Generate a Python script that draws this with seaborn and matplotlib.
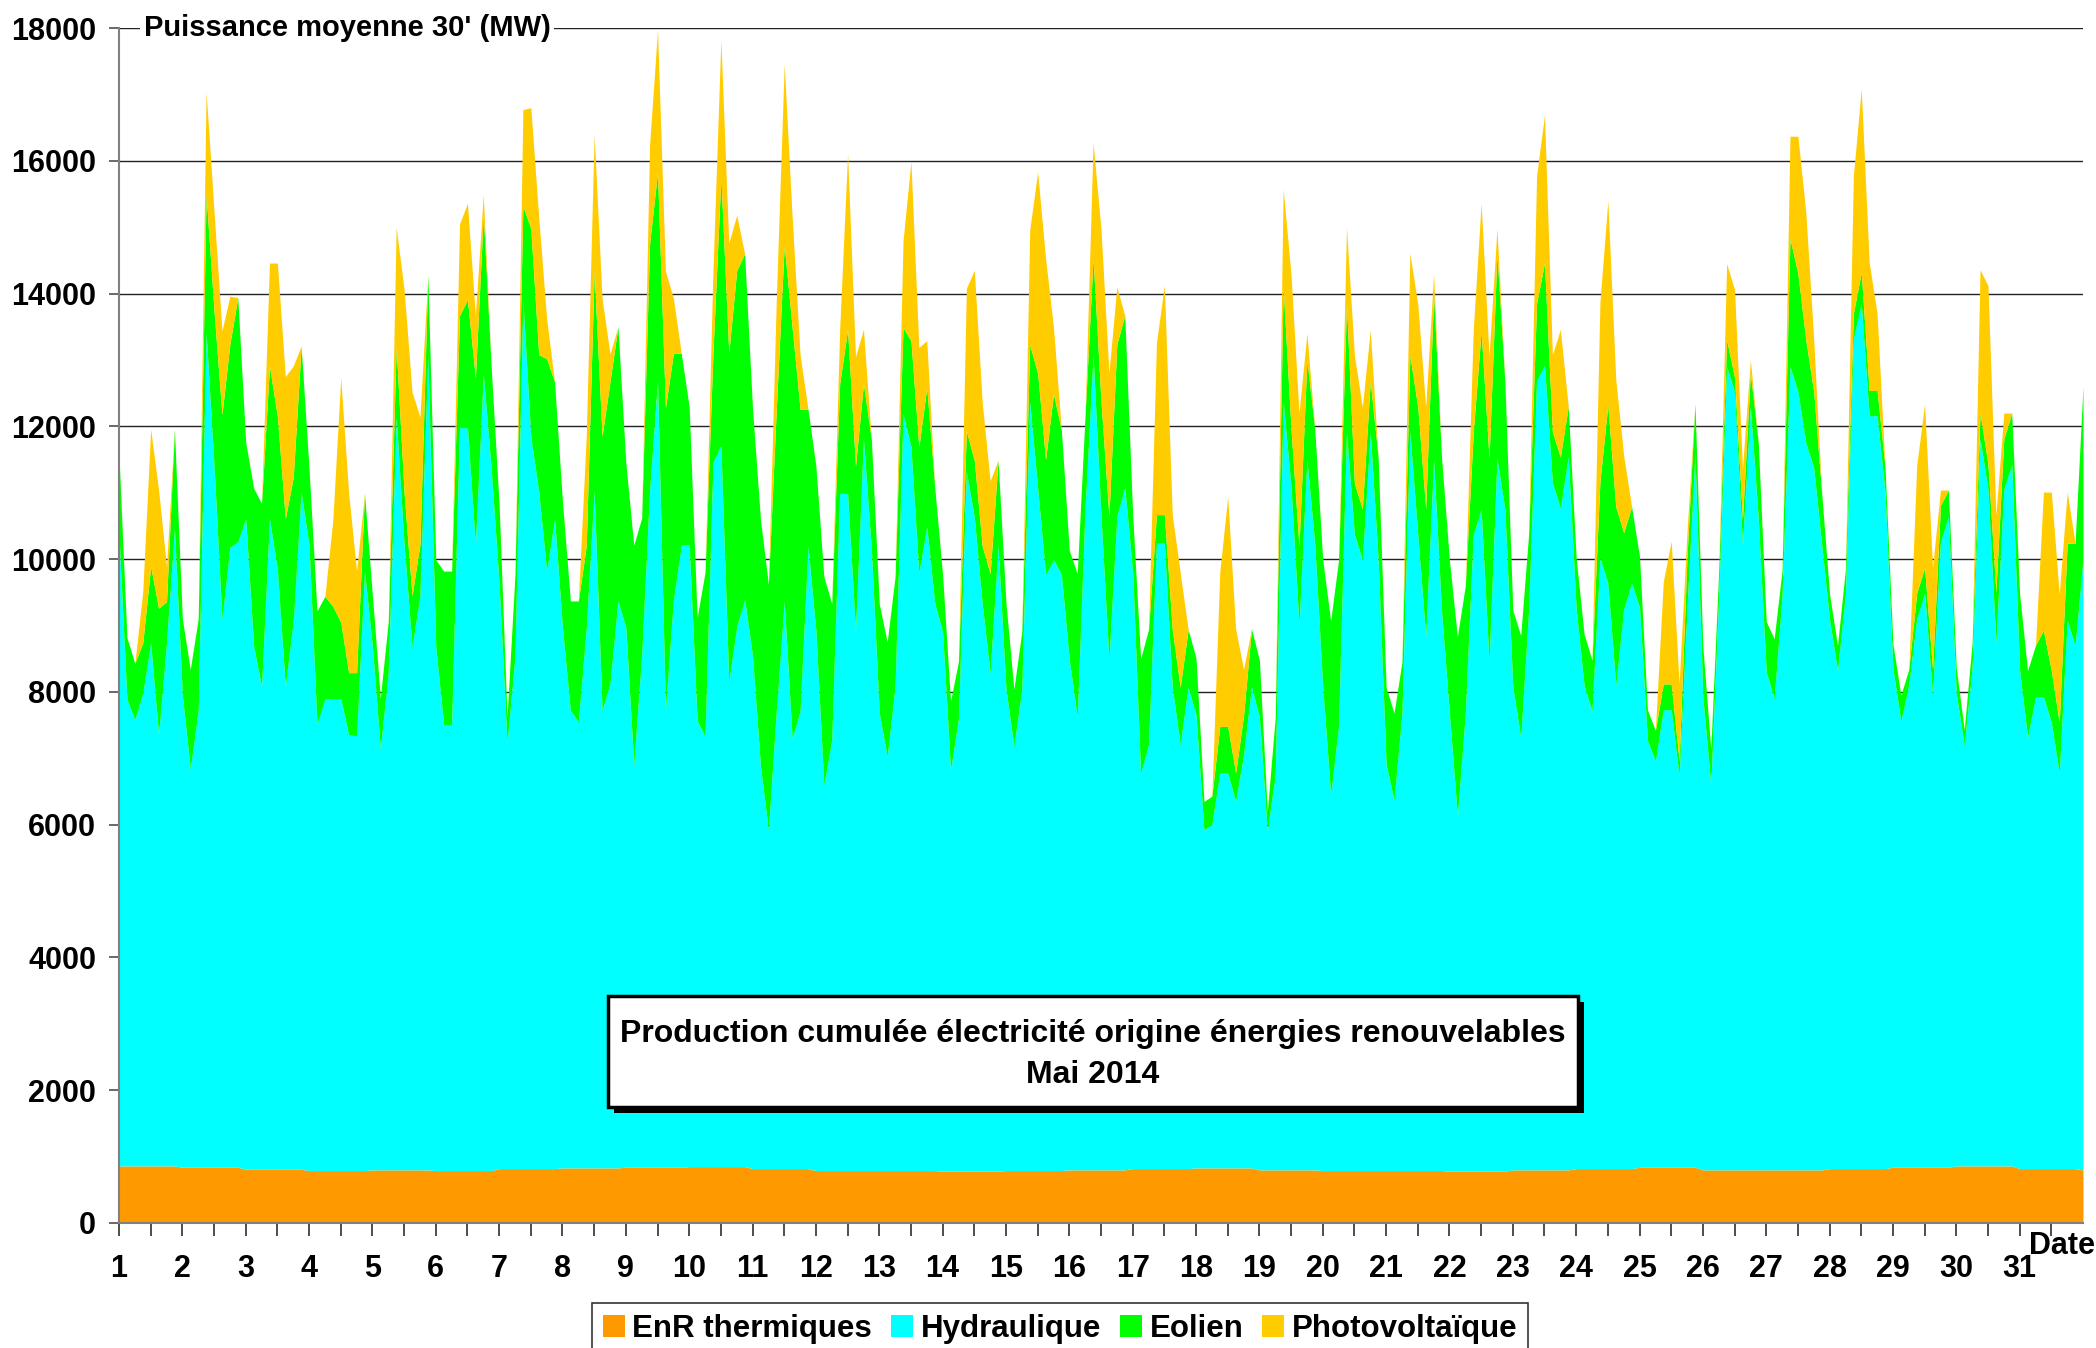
import numpy as np
import matplotlib
matplotlib.use("Agg")
import matplotlib.pyplot as plt
import seaborn as sns
from matplotlib.patches import Rectangle

# ---------------- data (MW, every 3 hours) ----------------
days = list(range(1, 32))
hours = [0, 3, 6, 9, 12, 15, 18, 21]

thermique_jour = [860, 840, 810, 790, 800, 790, 820, 830, 840, 850, 820, 790, 790, 780, 790, 800,
                  820, 830, 800, 790, 790, 780, 800, 820, 840, 800, 800, 820, 840, 860, 820]
thermique_fin = 800

hydraulique = [
    9500, 7030, 6720, 7120, 7880, 6500, 7880, 9600,      # 1
    7110, 6000, 6880, 12570, 10570, 8260, 9340, 9420,    # 2
    9800, 7880, 7270, 9800, 9030, 7270, 8260, 10200,     # 3
    9420, 6720, 7110, 7110, 7110, 6560, 6550, 9030,      # 4
    7880, 6340, 7500, 11340, 9420, 7880, 8650, 12260,    # 5
    7880, 6720, 6720, 11190, 11190, 9420, 12000, 10570,  # 6
    8800, 6400, 7720, 13080, 11020, 10200, 9000, 9780,   # 7
    8130, 6890, 6720, 8130, 10200, 6890, 7300, 8540,     # 8
    8130, 6060, 7720, 10200, 11850, 6890, 8540, 9370,    # 9
    9370, 6720, 6480, 10610, 10860, 7300, 8130, 8540,    # 10
    7720, 6060, 5100, 6890, 8540, 6480, 6890, 9370,      # 11
    8130, 5810, 6480, 10200, 10200, 8130, 11020, 9370,   # 12
    6890, 6230, 7300, 11400, 10900, 9000, 9700, 8550,    # 13
    8120, 6040, 6820, 10540, 9850, 8550, 7500, 9420,     # 14
    7250, 6390, 7250, 11580, 10280, 8980, 9200, 8980,    # 15
    7680, 6820, 10000, 12270, 9850, 7680, 9850, 10280,   # 16
    8980, 5950, 6390, 9420, 9420, 7250, 6390, 7250,      # 17
    6820, 5090, 5180, 5950, 5950, 5520, 6220, 7250,      # 18
    6820, 5100, 5950, 11580, 10280, 8200, 10700, 9420,   # 19
    7280, 5660, 6700, 11120, 9580, 9200, 11120, 9200,    # 20
    6120, 5580, 6890, 11120, 9580, 8050, 10700, 8430,    # 21
    6890, 5350, 6890, 9580, 9970, 7660, 10740, 9970,     # 22
    7280, 6510, 8430, 11890, 12120, 10350, 9970, 10740,  # 23
    8430, 7280, 6890, 9200, 8820, 7280, 8430, 8820,      # 24
    8430, 6430, 6120, 6890, 6890, 5890, 8430, 10740,     # 25
    7110, 5800, 8650, 12100, 11720, 9420, 11500, 9800,   # 26
    7500, 7100, 8650, 12100, 11720, 10950, 10570, 9420,  # 27
    8260, 7500, 8650, 12500, 13030, 11340, 11340, 10190, # 28
    7500, 6720, 7270, 8260, 8650, 7110, 9420, 9800,      # 29
    7110, 6340, 7500, 10950, 10190, 7880, 10190, 10570,  # 30
    7500, 6490, 7110, 7110, 6720, 5950, 8260, 7880,      # 31
    9200,                                                # end
]

eolien = [
    1200, 930, 850, 760, 1150, 1900, 620, 1500,      # 1
    1150, 1500, 1380, 2080, 2330, 3080, 3060, 3680,  # 2
    1150, 2380, 2760, 2300, 2310, 2530, 2160, 2200,  # 3
    1150, 1710, 1540, 1390, 1150, 940, 950, 1170,    # 4
    770, 770, 760, 1060, 780, 770, 770, 1220,        # 5
    1320, 2310, 2310, 1690, 1930, 2520, 2400, 1530,  # 6
    1200, 400, 1230, 1420, 3140, 2060, 3200, 2070,   # 7
    1900, 1650, 1820, 1240, 3300, 4130, 4550, 4130,  # 8
    2480, 3310, 2060, 3710, 3140, 4550, 3720, 2890,  # 9
    2070, 1550, 2470, 1650, 4040, 4960, 5370, 5210,  # 10
    3720, 3720, 3700, 4550, 5370, 6190, 4550, 2070,  # 11
    2480, 3140, 2060, 1650, 2470, 2480, 830, 1650,   # 12
    1650, 1730, 1650, 1300, 1600, 1900, 2100, 1750,  # 13
    860, 1040, 860, 610, 860, 870, 1500, 1290,       # 14
    1300, 860, 870, 860, 1730, 1730, 2500, 2170,     # 15
    1650, 2160, 1400, 1470, 1730, 2170, 2590, 2590,  # 16
    870, 1730, 1730, 430, 430, 870, 860, 870,        # 17
    860, 430, 420, 700, 700, 430, 600, 870,          # 18
    860, 300, 870, 1720, 870, 1200, 1500, 1730,      # 19
    1920, 2620, 2500, 1930, 770, 770, 770, 1540,     # 20
    1160, 1310, 770, 1160, 1920, 1920, 2500, 2310,   # 21
    2310, 2700, 1930, 1540, 2690, 3080, 3080, 1920,  # 22
    1150, 1540, 1150, 1160, 1540, 770, 770, 760,     # 23
    770, 770, 770, 1150, 2680, 2690, 1150, 1150,     # 24
    770, 460, 460, 390, 390, 230, 770, 760,          # 25
    770, 540, 380, 400, 220, 380, 500, 1150,         # 26
    760, 900, 380, 1930, 1780, 1550, 1150, 780,      # 27
    390, 380, 380, 380, 470, 380, 380, 380,          # 28
    380, 390, 230, 390, 380, 390, 550, 400,          # 29
    390, 230, 380, 390, 380, 770, 760, 770,          # 30
    1150, 1010, 770, 1000, 780, 770, 1160, 1540,     # 31
    2600,                                            # end
]

photovoltaique = [
    0, 0, 0, 770, 2070, 1780, 530, 0,     # 1
    0, 0, 0, 1550, 1500, 1260, 720, 0,    # 2
    0, 0, 0, 1550, 2310, 2140, 1680, 0,   # 3
    0, 0, 0, 1300, 3680, 2700, 1530, 0,   # 4
    0, 0, 0, 1800, 3060, 3070, 1920, 0,   # 5
    0, 0, 0, 1380, 1450, 940, 300, 0,     # 6
    0, 0, 0, 1450, 1820, 2070, 600, 0,    # 7
    0, 0, 0, 1650, 2060, 2070, 410, 0,    # 8
    0, 0, 0, 1490, 2140, 2060, 830, 0,    # 9
    0, 0, 0, 1240, 2070, 1650, 830, 0,    # 10
    0, 0, 0, 1650, 2730, 1660, 820, 0,    # 11
    0, 0, 0, 820, 2650, 1650, 820, 0,     # 12
    0, 0, 0, 1300, 2700, 1500, 700, 0,    # 13
    0, 0, 0, 2150, 2860, 2160, 1400, 0,   # 14
    0, 0, 0, 1730, 3030, 3030, 1000, 0,   # 15
    0, 0, 0, 1730, 2590, 2160, 860, 0,    # 16
    0, 0, 0, 2590, 3450, 1730, 1730, 0,   # 17
    0, 0, 0, 2330, 3460, 2170, 690, 0,    # 18
    0, 0, 0, 1480, 2330, 2000, 400, 0,    # 19
    0, 0, 0, 1150, 1930, 1530, 770, 0,    # 20
    0, 0, 0, 1540, 1550, 1530, 300, 0,    # 21
    0, 0, 0, 1540, 1920, 1540, 380, 0,    # 22
    0, 0, 0, 1920, 2230, 1160, 1920, 0,   # 23
    0, 0, 0, 2700, 3080, 1920, 1160, 0,   # 24
    0, 0, 0, 1540, 2150, 1160, 380, 0,    # 25
    0, 0, 0, 1150, 1320, 770, 200, 0,     # 26
    0, 0, 0, 1540, 2070, 1920, 780, 0,    # 27
    0, 0, 0, 2070, 2760, 1930, 1160, 0,   # 28
    0, 0, 0, 1920, 2470, 1530, 230, 0,    # 29
    0, 0, 0, 2160, 2690, 1150, 390, 0,    # 30
    0, 0, 0, 2080, 2690, 1930, 770, 0,    # 31
    0,                                    # end
]

series_names = ["EnR thermiques", "Hydraulique", "Eolien", "Photovoltaïque"]
series_colors = ["#FF9900", "#00FFFF", "#00FF00", "#FFCC00"]
y_ticks = list(range(0, 18001, 2000))
x_tick_labels = [str(d) for d in days]
y_title = "Puissance moyenne 30' (MW)"
x_title = "Date"
chart_title = "Production cumulée électricité origine énergies renouvelables\nMai 2014"

# ---------------- style ----------------
sns.set_theme(style="white")
plt.rcParams["font.family"] = ["Liberation Sans", "DejaVu Sans"]
plt.rcParams["font.weight"] = "bold"
plt.rcParams["text.color"] = "black"
plt.rcParams["xtick.color"] = "black"
plt.rcParams["ytick.color"] = "black"

t = np.array([d + h / 24 for d in days for h in hours] + [days[-1] + 1])
thermique = np.append(np.repeat(thermique_jour, len(hours)), thermique_fin)

W, H = 2096, 1348
fig = plt.figure(figsize=(W / 100, H / 100), dpi=100)
L, R, T, B = 119, 2083, 28, 1223
ax = fig.add_axes([L / W, 1 - B / H, (R - L) / W, (B - T) / H])

ax.stackplot(t, thermique, hydraulique, eolien, photovoltaique,
             colors=series_colors, labels=series_names, linewidth=0, zorder=2)

ax.set_xlim(1, 32)
ax.set_ylim(0, 18000)
ax.set_yticks(y_ticks)
ax.set_yticklabels([str(v) for v in y_ticks])
ax.set_xticks(days)
ax.set_xticklabels(x_tick_labels)
ax.set_xticks([d + 0.5 for d in days], minor=True)

ax.set_axisbelow(True)
ax.yaxis.grid(True, color="#222222", linewidth=1.0, zorder=0)
ax.xaxis.grid(False)

sns.despine(ax=ax, top=True, right=True)
for s in ("left", "bottom"):
    ax.spines[s].set_color("#808080")
    ax.spines[s].set_linewidth(1.5)
    ax.spines[s].set_zorder(3)

ax.tick_params(axis="y", which="both", left=True, direction="out", length=7.5,
               width=1.2, color="#505050", labelcolor="black", pad=9, labelsize=22)
ax.tick_params(axis="x", which="both", bottom=True, direction="out", length=9.5,
               width=1.2, color="#303030", labelcolor="black", pad=12.5, labelsize=22)
for lab in ax.get_xticklabels() + ax.get_yticklabels():
    lab.set_fontweight("bold")

# axis title on top gridline
ax.text(0.0127, 1.0, y_title, transform=ax.transAxes, ha="left", va="center",
        fontsize=21, fontweight="bold", color="black", zorder=6,
        bbox=dict(boxstyle="square,pad=0.12", fc="white", ec="none"))

fig.text(0.9995, 1 - 1246 / H, x_title, ha="right", va="center", fontsize=22,
         fontweight="bold", color="black")

# title box with shadow
bx0, by0, bw, bh = 608 / W, 1 - 1107 / H, 970 / W, 111 / H
fig.add_artist(Rectangle((bx0 + 6 / W, by0 - 6 / H), bw, bh, transform=fig.transFigure,
                         fc="black", ec="none", zorder=10))
fig.add_artist(Rectangle((bx0, by0), bw, bh, transform=fig.transFigure,
                         fc="white", ec="black", lw=2.5, zorder=11))
fig.text(bx0 + bw / 2, by0 + bh / 2 - 3 / H, chart_title, ha="center", va="center",
         fontsize=23, fontweight="bold", linespacing=1.5, color="black", zorder=12)

# legend
handles, labels = ax.get_legend_handles_labels()
leg = fig.legend(handles, labels, loc="upper center", bbox_to_anchor=(1060 / W, 1 - 1303 / H),
                 ncol=4, frameon=True, fancybox=False, edgecolor="black", fontsize=22.5,
                 handlelength=0.7, handleheight=0.7, handletextpad=0.25, columnspacing=0.6,
                 borderpad=0.35, borderaxespad=0)
leg.get_frame().set_linewidth(1.2)
for txt in leg.get_texts():
    txt.set_fontweight("bold")
    txt.set_color("black")

fig.savefig("out.png", dpi=100)
